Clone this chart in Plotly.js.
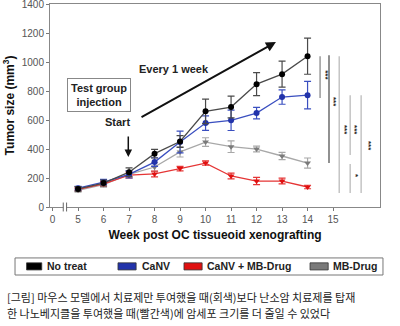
<!DOCTYPE html>
<html><head><meta charset="utf-8">
<script src="https://cdn.plot.ly/plotly-3.0.1.min.js"></script>
<style>html,body{margin:0;padding:0;background:#fff}#chart{width:400px;height:326px}</style>
</head><body><div id="chart"></div>
<script>
var weeks = [5, 6, 7, 8, 9, 10, 11, 12, 13, 14];
var seriesNames = ['No treat', 'CaNV', 'CaNV + MB-Drug', 'MB-Drug'];
var noTreat    = [125, 165, 240, 368, 452, 660, 690, 848, 917, 1041];
var noTreatErr = [15, 20, 30, 30, 40, 85, 75, 80, 90, 125];
var canv       = [130, 172, 225, 310, 448, 579, 598, 648, 759, 772];
var canvErr    = [12, 18, 25, 30, 75, 50, 70, 40, 50, 95];
var combo      = [122, 160, 220, 228, 265, 303, 214, 179, 179, 138];
var comboErr   = [10, 15, 20, 20, 15, 15, 20, 25, 20, 12];
var mbDrug     = [115, 155, 225, 276, 380, 448, 416, 400, 352, 303];
var mbDrugErr  = [12, 18, 25, 30, 35, 30, 40, 20, 25, 35];
var xTickVals  = [4, 5, 6, 7, 8, 9, 10, 11, 12, 13, 14, 15];
var xTickText  = ['0', '5', '6', '7', '8', '9', '10', '11', '12', '13', '14', '15'];
var yTickVals  = [0, 200, 400, 600, 800, 1000, 1200, 1400];
var sigLabels  = ['***', '***', '***', '***', '*', '***'];
var captionLines = ['[그림] 마우스 모델에서 치료제만 투여했을 때(회색)보다 난소암 치료제를 탑재',
                    '한 나노베지클을 투여했을 때(빨간색)에 암세포 크기를 더 줄일 수 있었다'];

var colors = {line: ['#4a4a4a', '#3a4fc0', '#e53535', '#a8a8a8'],
              mark: ['#000000', '#2233aa', '#e01010', '#7a7a7a'],
              sym:  ['circle', 'circle', 'triangle-down', 'triangle-down']};
var ys = [noTreat, canv, combo, mbDrug];
var es = [noTreatErr, canvErr, comboErr, mbDrugErr];
var order = [3, 2, 1, 0];
var traces = order.map(function(i){
  return {x: weeks, y: ys[i], name: seriesNames[i], type: 'scatter', mode: 'lines+markers',
    line: {color: colors.line[i], width: 1.3},
    marker: {color: colors.mark[i], size: 6, symbol: colors.sym[i]},
    error_y: {type: 'data', array: es[i], visible: true, color: colors.line[i], thickness: 1.2, width: 3.5},
    showlegend: false};
});

var F = 'Arial, "Liberation Sans", sans-serif';
var shapes = [
  {type:'line', xref:'x', yref:'y', x0:14.49, x1:14.49, y0:1041, y1:752, line:{color:'#8a8a8a', width:1.3}},
  {type:'line', xref:'x', yref:'y', x0:14.84, x1:14.84, y0:1048, y1:303, line:{color:'#555', width:1.3}},
  {type:'line', xref:'x', yref:'y', x0:15.24, x1:15.24, y0:1041, y1:97, line:{color:'#bbb', width:1.3}},
  {type:'line', xref:'x', yref:'y', x0:15.67, x1:15.67, y0:772, y1:359, line:{color:'#bbb', width:1.3}},
  {type:'line', xref:'x', yref:'y', x0:15.67, x1:15.67, y0:297, y1:97, line:{color:'#bbb', width:1.3}},
  {type:'line', xref:'x', yref:'y', x0:16.1, x1:16.1, y0:772, y1:97, line:{color:'#bbb', width:1.3}},
  {type:'rect', xref:'x', yref:'paper', x0:4.42, x1:4.55, y0:-0.02, y1:0.02, fillcolor:'#fff', line:{width:0}},
  {type:'line', xref:'x', yref:'paper', x0:4.42, x1:4.42, y0:-0.022, y1:0.022, line:{color:'#666', width:1}},
  {type:'line', xref:'x', yref:'paper', x0:4.55, x1:4.55, y0:-0.022, y1:0.022, line:{color:'#666', width:1}},
  {type:'rect', xref:'paper', yref:'paper', x0:-0.106, x1:1.009, y0:-0.251, y1:-0.335, line:{color:'#777', width:1}, fillcolor:'rgba(0,0,0,0)'}
];
var annotations = [
  {xref:'x', yref:'y', x:5.82, y:772, text:'<b>Test group<br>injection</b>', showarrow:false,
   font:{family:F, size:11, color:'#222'}, bordercolor:'#888', borderwidth:1, borderpad:3},
  {xref:'x', yref:'y', x:6.55, y:585, text:'<b>Start</b>', showarrow:false, font:{family:F, size:11, color:'#222'}},
  {xref:'x', yref:'y', x:6.97, y:345, ax:6.97, ay:497, axref:'x', ayref:'y', text:'', showarrow:true,
   arrowhead:2, arrowsize:1, arrowwidth:1.5, arrowcolor:'#111'},
  {xref:'x', yref:'y', x:8.75, y:955, text:'<b>Every 1 week</b>', showarrow:false, font:{family:F, size:11, color:'#222'}},
  {xref:'x', yref:'y', x:12.76, y:1138, ax:7.43, ay:614, axref:'x', ayref:'y', text:'', showarrow:true,
   arrowhead:2, arrowsize:1, arrowwidth:2, arrowcolor:'#111'}
];
var sigPos = [[14.69, 908], [15.04, 724], [15.47, 531], [15.86, 531], [15.86, 214], [16.41, 421]];
sigPos.forEach(function(p, k){
  annotations.push({xref:'x', yref:'y', x:p[0], y:p[1], text:'<b>'+sigLabels[k]+'</b>', showarrow:false,
    textangle:90, font:{family:F, size:8, color:'#222'}});
});
var legSw = [[-0.071, -0.025], [0.206, 0.261], [0.406, 0.461], [0.788, 0.843]];
var legTx = [-0.015, 0.272, 0.471, 0.853];
for (var i = 0; i < 4; i++) {
  shapes.push({type:'rect', xref:'paper', yref:'paper', x0:legSw[i][0], x1:legSw[i][1], y0:-0.275, y1:-0.310,
    fillcolor:colors.mark[i], line:{color:'#333', width:0.8}});
  annotations.push({xref:'paper', yref:'paper', x:legTx[i], y:-0.293, xanchor:'left', yanchor:'middle',
    text:'<b>'+seriesNames[i]+'</b>', showarrow:false, font:{family:F, size:10.5, color:'#222'}});
}
captionLines.forEach(function(t, k){
  annotations.push({xref:'paper', yref:'paper', x:-0.137, y:[-0.443, -0.522][k], xanchor:'left', yanchor:'middle',
    text:t, showarrow:false, font:{family:'"Noto Sans CJK KR", sans-serif', size:11, color:'#222'}});
});

var layout = {
  width: 400, height: 326,
  margin: {l: 50, r: 20, t: 4, b: 119},
  paper_bgcolor: '#fff', plot_bgcolor: '#fff',
  font: {family: F, color: '#555', size: 10},
  showlegend: false,
  xaxis: {range: [3.9, 16.84], tickvals: xTickVals, ticktext: xTickText, ticks: 'outside', ticklen: 3,
    tickcolor: '#777', showline: true, linecolor: '#888', linewidth: 1, mirror: true, showgrid: false, zeroline: false,
    tickfont: {size: 10, color: '#555'},
    title: {text: '<b>Week post OC tissueoid xenografting</b>', font: {family: F, size: 12, color: '#111'}, standoff: 6}},
  yaxis: {range: [0, 1401], tickvals: yTickVals, ticks: 'outside', ticklen: 3, tickcolor: '#777',
    ticklabeloverflow: 'allow',
    showline: true, linecolor: '#888', linewidth: 1, mirror: true, showgrid: false, zeroline: false,
    tickfont: {size: 10, color: '#555'},
    title: {text: '<b>Tumor size (mm<sup>3</sup>)</b>', font: {family: F, size: 12, color: '#111'}, standoff: 4}},
  shapes: shapes,
  annotations: annotations
};
Plotly.newPlot('chart', traces, layout, {displayModeBar: false, staticPlot: true});
</script>
</body></html>
